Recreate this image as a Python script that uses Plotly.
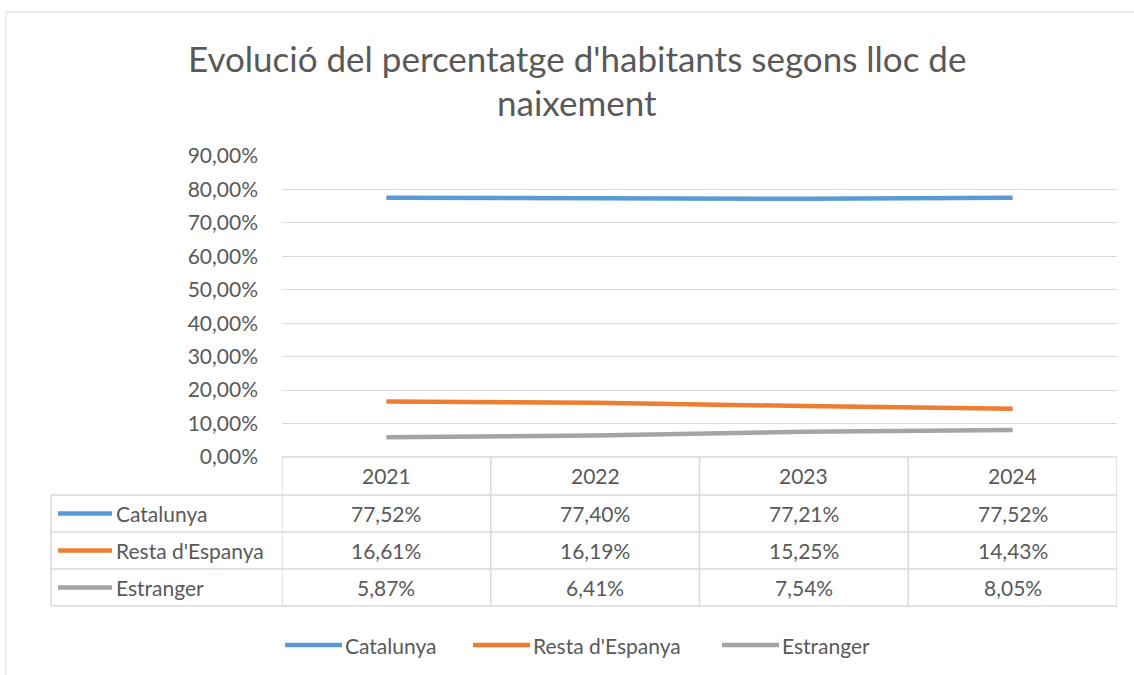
import plotly.graph_objects as go

years = ["2021", "2022", "2023", "2024"]
series_names = ["Catalunya", "Resta d'Espanya", "Estranger"]
catalunya = [77.52, 77.40, 77.21, 77.52]
resta = [16.61, 16.19, 15.25, 14.43]
estranger = [5.87, 6.41, 7.54, 8.05]
colors = ["#5B9BD5", "#ED7D31", "#A5A5A5"]
y_ticks = [0, 10, 20, 30, 40, 50, 60, 70, 80, 90]
title_lines = ["Evolució del percentatge d'habitants segons lloc de", "naixement"]

W, H = 1134, 675
FONT = "Lato"
TXT = "#595959"
GRID = "#D9D9D9"
FS = 21


def px(x):
    return x / W


def py(y):
    return (H - y) / H


series = [catalunya, resta, estranger]
xi = list(range(len(years)))

fig = go.Figure()
for name, vals, col in zip(series_names, series, colors):
    fig.add_trace(go.Scatter(
        x=xi, y=[v / 100 for v in vals], mode="lines", name=name,
        line=dict(color=col, width=4.5), hoverinfo="skip", showlegend=False))

plot_left, plot_right = 282, 1117
y_top, y_zero = 156, 457
row_edges = [457, 495, 532, 569, 606]
table_left = 51

shapes = []
# outer chart border
shapes.append(dict(type="rect", xref="paper", yref="paper", x0=px(6), x1=px(1140),
                   y0=py(680), y1=py(12), line=dict(color=GRID, width=1)))
# vertical column lines of table
for k in range(len(years) + 1):
    shapes.append(dict(type="line", xref="x", yref="paper", x0=k - 0.5, x1=k - 0.5,
                       y0=py(row_edges[0]), y1=py(row_edges[-1]),
                       line=dict(color=GRID, width=1.5)))
# horizontal lines
for j, ye in enumerate(row_edges):
    shapes.append(dict(type="line", xref="x", yref="paper", x0=-0.5, x1=len(years) - 0.5,
                       y0=py(ye), y1=py(ye), line=dict(color=GRID, width=1.5)))
    if j >= 1:
        shapes.append(dict(type="line", xref="paper", yref="paper", x0=px(table_left),
                           x1=px(plot_left), y0=py(ye), y1=py(ye),
                           line=dict(color=GRID, width=1.5)))
shapes.append(dict(type="line", xref="paper", yref="paper", x0=px(table_left), x1=px(table_left),
                   y0=py(row_edges[1]), y1=py(row_edges[-1]), line=dict(color=GRID, width=1.5)))

annotations = []
# title
for t, yc in zip(title_lines, [58, 102]):
    annotations.append(dict(text=t, xref="paper", yref="paper", x=px(577), y=py(yc),
                            showarrow=False, xanchor="center", yanchor="middle",
                            font=dict(family=FONT, size=35, color=TXT)))
# header years
for k, yr in enumerate(years):
    annotations.append(dict(text=yr, xref="x", yref="paper", x=k, y=py((row_edges[0] + row_edges[1]) / 2),
                            showarrow=False, xanchor="center", yanchor="middle",
                            font=dict(family=FONT, size=FS, color=TXT)))
# rows
for r, (name, vals, col) in enumerate(zip(series_names, series, colors)):
    yc = (row_edges[r + 1] + row_edges[r + 2]) / 2
    shapes.append(dict(type="line", xref="paper", yref="paper", x0=px(58), x1=px(112),
                       y0=py(yc), y1=py(yc), line=dict(color=col, width=4.5)))
    annotations.append(dict(text=name, xref="paper", yref="paper", x=px(114), y=py(yc),
                            showarrow=False, xanchor="left", yanchor="middle",
                            font=dict(family=FONT, size=FS, color=TXT)))
    for k, v in enumerate(vals):
        annotations.append(dict(text=f"{v:.2f}%".replace(".", ","), xref="x", yref="paper",
                                x=k, y=py(yc), showarrow=False, xanchor="center", yanchor="middle",
                                font=dict(family=FONT, size=FS, color=TXT)))

# bottom legend (drawn as keys + labels)
legend_key_x = [285, 473, 722]
legend_y = 645
for name, col, kx in zip(series_names, colors, legend_key_x):
    shapes.append(dict(type="line", xref="paper", yref="paper", x0=px(kx), x1=px(kx + 57),
                       y0=py(legend_y), y1=py(legend_y), line=dict(color=col, width=4.5)))
    annotations.append(dict(text=name, xref="paper", yref="paper", x=px(kx + 58), y=py(legend_y),
                            showarrow=False, xanchor="left", yanchor="middle",
                            font=dict(family=FONT, size=FS, color=TXT)))

fig.update_layout(
    width=W, height=H, margin=dict(l=0, r=0, t=0, b=0, autoexpand=False),
    paper_bgcolor="white", plot_bgcolor="white",
    separators=",.",
    font=dict(family=FONT, size=FS, color=TXT),
    xaxis=dict(domain=[px(plot_left), px(plot_right)], range=[-0.5, len(years) - 0.5],
               showgrid=False, zeroline=False, showticklabels=False, showline=False,
               fixedrange=True),
    yaxis=dict(domain=[py(y_zero), py(y_top)], range=[0, 0.9],
               tickvals=[v / 100 for v in y_ticks], tickformat=".2%",
               showgrid=True, gridcolor=GRID, gridwidth=1.2, zeroline=False,
               showline=False, ticks="", ticklabelstandoff=23,
               tickfont=dict(family=FONT, size=FS, color=TXT), fixedrange=True),
    showlegend=False,
    shapes=shapes, annotations=annotations,
)

fig.write_html("out.html", config={"displayModeBar": False},
               post_script="document.body.style.margin='0';document.body.style.overflow='hidden';")
